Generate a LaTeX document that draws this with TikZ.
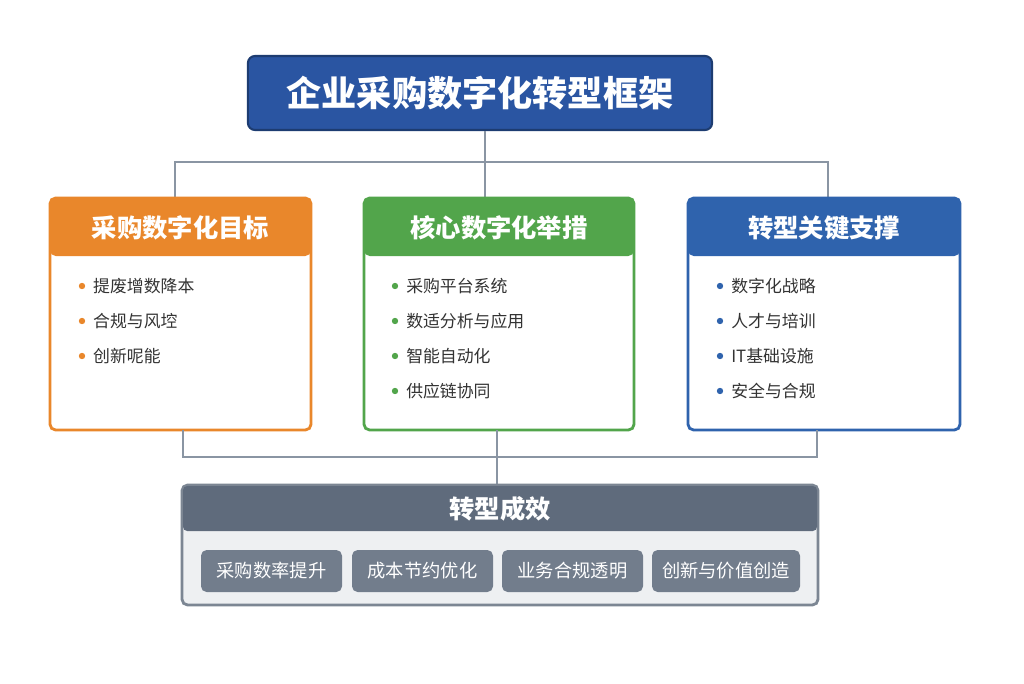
\documentclass[tikz,border=0pt]{standalone}
\usepackage{fontspec}
\setmainfont{Noto Sans CJK SC}
\usetikzlibrary{positioning}
\definecolor{tblue}{HTML}{2A55A2}
\definecolor{gorange}{HTML}{E9872B}
\definecolor{ggreen}{HTML}{52A54B}
\definecolor{gblue}{HTML}{2F63AD}
\definecolor{ogray}{HTML}{5F6B7C}
\definecolor{pgray}{HTML}{727D8C}
\definecolor{lgray}{HTML}{EEF0F2}
\definecolor{cgray}{HTML}{8A95A3}
\begin{document}
\begin{tikzpicture}[x=0.025cm,y=-0.025cm,
	group/.style={draw=#1, line width=2pt, rounded corners=4pt, fill=white},
	head/.style={fill=#1, rounded corners=4pt},
	item/.style={anchor=west, font=\fontsize{12}{14}\selectfont, text=black!80},
	dot/.style={circle, fill=#1, inner sep=1.6pt},
	pill/.style={fill=pgray, rounded corners=4pt, text=white, minimum width=#1*0.025cm, minimum height=1.05cm, font=\fontsize{13}{15}\selectfont},
	conn/.style={draw=cgray, line width=2pt}]
	\useasboundingbox (0,0) rectangle (1024,683);
	\fill[white] (0,0) rectangle (1024,683);

	% Titel
	\node[fill=tblue, draw=tblue!70!black, line width=1.5pt, rounded corners=5pt, minimum width=11.6cm, minimum height=1.85cm, text=white, font=\bfseries\fontsize{25}{30}\selectfont] (title) at (480,93) {企业采购数字化转型框架};

	% Verbindungen oben
	\coordinate (top) at (485,162);
	\draw[conn] (title.south -| top) -- (top);
	\draw[conn] (175,198) -- (175,162) -- (828,162) -- (828,198);
	\draw[conn] (top) -- (485,198);

	% Gruppen
	\foreach \name/\xa/\xb/\col/\txt in {goal/50/311/gorange/采购数字化目标, act/364/634/ggreen/核心数字化举措, sup/688/960/gblue/转型关键支撑}{
		\draw[group=\col] (\xa,198) rectangle (\xb,430);
		\fill[head=\col] (\xa,198) rectangle (\xb,256);
		\node[text=white, font=\bfseries\fontsize{18}{22}\selectfont] (\name) at ({(\xa+\xb)/2},228) {\txt};
	}

	% Punkte
	\foreach \t [count=\i] in {提废增数降本, 合规与风埪, 创新呢能}{
		\node[dot=gorange] (g\i) at (82,{286+(\i-1)*35}) {};
		\node[item, right=2pt of g\i] {\t};
	}
	\foreach \t [count=\i] in {采购平台系统, 数适分析与应用, 智能自动化, 供应链协同}{
		\node[dot=ggreen] (a\i) at (395,{286+(\i-1)*35}) {};
		\node[item, right=2pt of a\i] {\t};
	}
	\foreach \t [count=\i] in {数字化战略, 人才与培训, IT基础设施, 安全与合规}{
		\node[dot=gblue] (s\i) at (720,{286+(\i-1)*35}) {};
		\node[item, right=2pt of s\i] {\t};
	}

	% Verbindungen unten
	\coordinate (mid) at (497,457);
	\draw[conn] (183,430) -- (183,457) -- (817,457) -- (817,430);
	\draw[conn] (497,430) -- (mid) -- (497,485);

	% Ergebnis
	\draw[draw=cgray!90!black, line width=2pt, rounded corners=4pt, fill=lgray] (182,485) rectangle (818,605);
	\fill[ogray, rounded corners=3pt] (183,486) rectangle (817,531);
	\node[text=white, font=\bfseries\fontsize{18}{22}\selectfont] (res) at (500,509) {转型成效};
	\node[pill=141] (p1) at (271.5,571) {采购数率提升};
	\node[pill=141] (p2) at (422.5,571) {成本节约优化};
	\node[pill=141] (p3) at (572.5,571) {业务合规透明};
	\node[pill=148] (p4) at (726,571) {创新与价值创造};
\end{tikzpicture}
\end{document}
